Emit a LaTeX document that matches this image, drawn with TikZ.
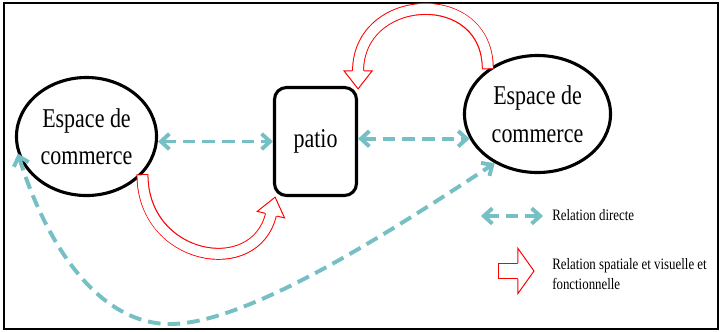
\documentclass[tikz,border=0pt]{standalone}
\usepackage{fontspec}
\newfontfamily\garfont[FakeStretch=0.81]{Liberation Serif}
\usetikzlibrary{shapes.geometric,arrows.meta,decorations.markings}
\definecolor{relteal}{RGB}{118,192,197}
\tikzset{
    espace/.style={ellipse, draw, line width=2.2pt, inner sep=0pt, align=center,
        font=\garfont\fontsize{19.3pt}{26.7pt}\selectfont},
    patiobox/.style={rectangle, rounded corners=0.3cm, draw, line width=2.2pt,
        inner sep=0pt, align=center, font=\garfont\fontsize{19.3pt}{26.7pt}\selectfont},
    legende/.style={inner sep=0pt, align=left,
        font=\garfont\fontsize{11.3pt}{14.2pt}\selectfont},
    rel/.style={relteal, line width=2.8pt, dash pattern=on 9pt off 5pt,
        {Straight Barb[length=6pt,width=11pt]}-{Straight Barb[length=6pt,width=11pt]}},
    % fleche creuse : largeur du corps, demi-largeur de la tete, longueur de la tete
    hollow/.style n args={3}{
        preaction={draw=red, line width=#1, shorten >=#3-0.1pt},
        preaction={draw=white, line width=#1-1.4pt, shorten >=#3-0.2pt, shorten <=0.7pt},
        postaction={decorate, decoration={markings, mark=at position 0.9995 with {
            \fill[white] (-#3,#2) -- (0,0) -- (-#3,-#2) -- cycle;
            \draw[red, line width=0.7pt, line join=miter]
                (-#3,#1/2) -- (-#3,#2) -- (0,0) -- (-#3,-#2) -- (-#3,-#1/2);
        }}}
    }
}
\begin{document}
\begin{tikzpicture}[x=0.025cm, y=-0.025cm]
    \useasboundingbox (0,0) rectangle (721,331);
    \draw[line width=1.4pt] (4,3) rectangle (718,329);

    % espaces de commerce et patio
    \node[espace, minimum width=3.5cm, minimum height=2.95cm] (lcom) at (86.5,136.5) {Espace de\\commerce};
    \node[espace, minimum width=3.65cm, minimum height=2.925cm] (rcom) at (537.5,114) {Espace de\\commerce};
    \node[patiobox, minimum width=2.05cm, minimum height=2.7cm] (patio) at (315.5,141.5) {patio};

    % relations directes
    \draw[rel] (lcom.east |- patio.west) -- (patio.west);
    \draw[rel] (patio.east |- rcom.200) -- (rcom.200);
    \coordinate (creux) at (170,324);
    \draw[rel] (lcom.194) .. controls +(30,95) and +(-70,0) .. (creux)
        .. controls +(80,0) and +(-95,62) .. (rcom.229);

    % relations spatiales
    \path[hollow={8.5pt}{10pt}{12.8pt}] (lcom.-34) .. controls +(0,86) and +(-20,84) .. (patio.-126);
    \path[hollow={8.5pt}{10pt}{12.8pt}] (rcom.138) .. controls +(0,-84) and +(0,-97) .. (patio.51);

    % legende
    \coordinate (rdA) at (481,216);
    \coordinate (rdB) at (543,216);
    \draw[rel] (rdA) -- (rdB);
    \node[legende, anchor=base west] (ldir) at (552,220) {Relation directe};
    \coordinate (hA) at (498,271);
    \coordinate (hB) at (534,271);
    \path[hollow={11.4pt}{16pt}{11.4pt}] (hA) -- (hB);
    \node[legende, anchor=north west] (lspa) at (552,258) {Relation spatiale et visuelle et\\fonctionnelle};
\end{tikzpicture}
\end{document}
